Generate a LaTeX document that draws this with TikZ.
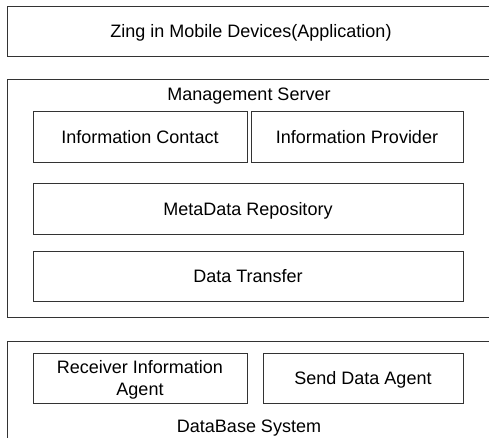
\documentclass[tikz,border=0pt]{standalone}
\usepackage{fontspec}
\setmainfont{Liberation Sans}
\begin{document}
\begin{tikzpicture}[x=1pt,y=-1pt,
  box/.style={draw=black!80,line width=0.9pt,inner sep=0pt,align=center,
    text depth=0pt,font=\fontsize{18}{22}\selectfont},
  lbl/.style={inner sep=0pt,text depth=0pt,font=\fontsize{18}{22}\selectfont}]
\useasboundingbox (0,0) rectangle (489,437);
% application layer
\node[box,minimum width=488pt,minimum height=50pt] (app) at (251,31) {Zing in Mobile Devices(Application)};
% management server
\node[box,minimum width=488pt,minimum height=238pt] (mgmt) at (251,198) {};
\node[lbl] (mgmtlbl) at (249,94) {Management Server};
\node[box,minimum width=214pt,minimum height=51pt] (infocontact) at (140,136.5) {Information Contact};
\node[box,minimum width=212pt,minimum height=51pt] (infoprovider) at (357,136.5) {Information Provider};
\node[box,minimum width=430pt,minimum height=51pt] (metadata) at (248,208.5) {MetaData Repository};
\node[box,minimum width=430pt,minimum height=50pt] (transfer) at (248,276) {Data Transfer};
% database system
\node[box,minimum width=488pt,minimum height=109pt] (dbsys) at (251,395.5) {};
\node[box,minimum width=214pt,minimum height=50pt] (receiver) at (140,378) {Receiver Information\\Agent};
\node[box,minimum width=200pt,minimum height=50pt] (sender) at (363,378) {Send Data Agent};
\node[lbl] (dbslbl) at (249,426) {DataBase System};
\end{tikzpicture}
\end{document}
